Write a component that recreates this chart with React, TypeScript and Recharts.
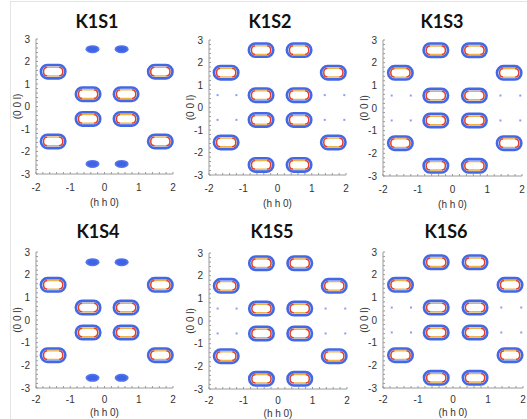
import { ScatterChart, Scatter, XAxis, YAxis, Label } from "recharts";

// panels, read left-to-right, top-to-bottom
const titles = ["K1S1", "K1S2", "K1S3", "K1S4", "K1S5", "K1S6"];
const hasEdgeRings = [false, true, true, false, true, true];

// peak positions (h h 0) / (0 0 l)
const outerH = [-1.5, 1.63];
const innerH = [-0.48, 0.63];
const spotH = [-0.35, 0.5];
const dotH = [-1.75, -1.2, 1.38, 1.95];
const outerL = [1.55, -1.55];
const innerL = [0.55, -0.55];
const edgeL = [2.55, -2.55];

// axis ticks (minor every 0.2, labels on integers)
const hTicks = [-2, -1.8, -1.6, -1.4, -1.2, -1, -0.8, -0.6, -0.4, -0.2, 0, 0.2, 0.4, 0.6, 0.8, 1, 1.2, 1.4, 1.6, 1.8, 2];
const lTicks = [-3, -2.8, -2.6, -2.4, -2.2, -2, -1.8, -1.6, -1.4, -1.2, -1, -0.8, -0.6, -0.4, -0.2, 0, 0.2, 0.4, 0.6, 0.8, 1, 1.2, 1.4, 1.6, 1.8, 2, 2.2, 2.4, 2.6, 2.8, 3];

// plot box of each panel on the page
const frames = [
  { l: 36, t: 39, r: 173, b: 174, tx: 97, ty: 21, tm: 12, lo: 0 },
  { l: 209, t: 40, r: 346, b: 175, tx: 270, ty: 21, tm: 12, lo: 0 },
  { l: 383, t: 40, r: 522, b: 176, tx: 442, ty: 21, tm: 12, lo: 0 },
  { l: 36, t: 252, r: 173, b: 388, tx: 98, ty: 231, tm: 10, lo: 4 },
  { l: 209, t: 253, r: 347, b: 389, tx: 272, ty: 231, tm: 10, lo: 4 },
  { l: 383, t: 252, r: 523, b: 388, tx: 446, ty: 231, tm: 10, lo: 4 },
];

const grid = (hs: number[], ls: number[]) =>
  ls.flatMap((l) => hs.map((h) => ({ h, l })));

const intLabel = (v: number) => (Number.isInteger(v) ? String(v) : "");
const blank = () => "";

const Ring = (props: any) => {
  const { cx, cy } = props;
  return (
    <g>
      <rect x={cx - 12.2} y={cy - 6.7} width={24.4} height={13.4} rx={6.5} fill="#dde3f6" stroke="#4468e4" strokeWidth={2.6} />
      <rect x={cx - 9.6} y={cy - 4.2} width={19.2} height={8.4} rx={4} fill="#ffffff" stroke="#efb347" strokeWidth={1.3} />
      <path
        d={`M${cx - 6} ${cy - 4.2} Q${cx - 9.6} ${cy - 4.2} ${cx - 9.6} ${cy} Q${cx - 9.6} ${cy + 4.2} ${cx - 6} ${cy + 4.2}`}
        fill="none"
        stroke="#e23d2e"
        strokeWidth={1.3}
      />
      <path
        d={`M${cx + 6} ${cy - 4.2} Q${cx + 9.6} ${cy - 4.2} ${cx + 9.6} ${cy} Q${cx + 9.6} ${cy + 4.2} ${cx + 6} ${cy + 4.2}`}
        fill="none"
        stroke="#e23d2e"
        strokeWidth={1.3}
      />
    </g>
  );
};

const Spot = (props: any) => {
  const { cx, cy } = props;
  return (
    <g>
      <ellipse cx={cx} cy={cy} rx={7} ry={4} fill="#5576ea" />
      <ellipse cx={cx} cy={cy} rx={5} ry={2.6} fill="#3f63e6" />
    </g>
  );
};

const Dot = (props: any) => {
  const { cx, cy } = props;
  return <rect x={cx - 1} y={cy - 1} width={2} height={2} fill="#8aa0ef" />;
};

const tickStyle = { fontSize: 10, fill: "#333" };
const axisStroke = "#9a9a9a";

function Panel({ idx }: { idx: number }) {
  const f = frames[idx];
  const plotW = f.r - f.l;
  const plotH = f.b - f.t;
  const edge = hasEdgeRings[idx];
  const rings = [
    ...grid(outerH, outerL),
    ...grid(innerH, innerL),
    ...(edge ? grid(innerH, edgeL) : []),
  ];
  const spots = edge ? [] : grid(spotH, edgeL);
  const dots = edge ? grid(dotH, innerL) : [];

  return (
    <>
      <div
        style={{
          position: "absolute",
          left: f.tx - 50,
          top: f.ty - 11,
          width: 100,
          textAlign: "center",
          fontFamily: "Lato, 'Liberation Sans', sans-serif",
          fontWeight: 700,
          fontSize: 18,
          lineHeight: "22px",
          color: "#111",
        }}
      >
        {titles[idx]}
      </div>
      <div style={{ position: "absolute", left: f.l - 36, top: f.t - 39 }}>
        <ScatterChart
          width={plotW + 43}
          height={plotH + 77}
          margin={{ top: 39, right: 7, bottom: 6, left: 11 }}
          style={{ fontFamily: "'Liberation Sans', Arial, sans-serif" }}
        >
          <XAxis
            xAxisId="main"
            type="number"
            dataKey="h"
            domain={[-2, 2]}
            ticks={hTicks}
            interval={0}
            tickFormatter={intLabel}
            tickSize={-2}
            tickMargin={f.tm}
            height={32}
            stroke={axisStroke}
            tick={tickStyle}
          >
            <Label value="(h h 0)" position="insideBottom" offset={f.lo} style={{ fontSize: 10, fill: "#333" }} />
          </XAxis>
          <XAxis
            xAxisId="top"
            orientation="top"
            type="number"
            domain={[-2, 2]}
            ticks={hTicks}
            interval={0}
            tickFormatter={blank}
            tickSize={-2}
            height={0}
            stroke={axisStroke}
          />
          <YAxis
            yAxisId="main"
            type="number"
            dataKey="l"
            domain={[-3, 3]}
            ticks={lTicks}
            interval={0}
            tickFormatter={intLabel}
            tickSize={-2}
            tickMargin={8}
            width={25}
            stroke={axisStroke}
            tick={tickStyle}
          >
            <Label
              value="(0 0 l)"
              angle={-90}
              position="insideLeft"
              offset={6}
              style={{ fontSize: 10, fill: "#333", textAnchor: "middle" }}
            />
          </YAxis>
          <YAxis
            yAxisId="right"
            orientation="right"
            type="number"
            domain={[-3, 3]}
            ticks={lTicks}
            interval={0}
            tickFormatter={blank}
            tickSize={-2}
            width={0}
            stroke={axisStroke}
          />
          <Scatter xAxisId="main" yAxisId="main" data={dots} shape={Dot} isAnimationActive={false} />
          <Scatter xAxisId="main" yAxisId="main" data={spots} shape={Spot} isAnimationActive={false} />
          <Scatter xAxisId="main" yAxisId="main" data={rings} shape={Ring} isAnimationActive={false} />
        </ScatterChart>
      </div>
    </>
  );
}

export default function App() {
  return (
    <div
      style={{
        position: "absolute",
        left: 0,
        top: 0,
        width: 527,
        height: 419,
        background: "#fff",
        overflow: "hidden",
      }}
    >
      <div
        style={{
          position: "absolute",
          left: 10,
          top: 1,
          width: 530,
          height: 430,
          borderLeft: "1px solid #e4e4e4",
          borderTop: "1px solid #e4e4e4",
        }}
      />
      {titles.map((_, i) => (
        <Panel key={i} idx={i} />
      ))}
    </div>
  );
}
